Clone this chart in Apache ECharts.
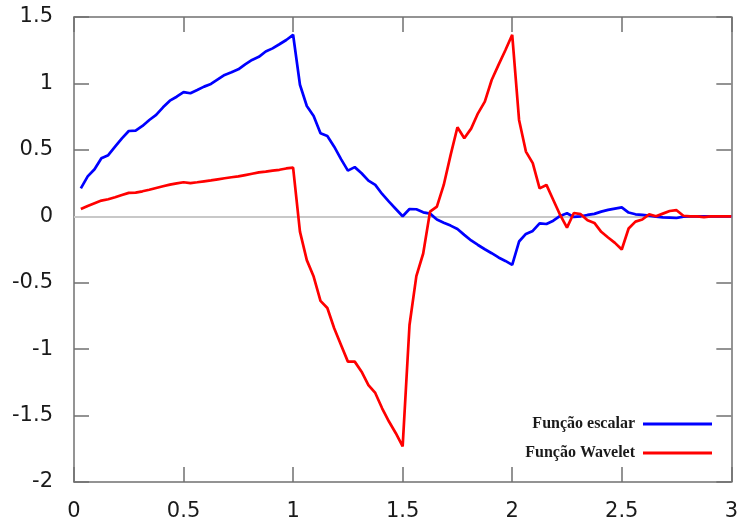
<!DOCTYPE html>
<html>
<head>
<meta charset="utf-8">
<script src="https://cdn.jsdelivr.net/npm/echarts@6/dist/echarts.min.js"></script>
<style>
html,body{margin:0;padding:0;background:#fff;}
#chart{width:741px;height:524px;}
</style>
</head>
<body>
<div id="chart"></div>
<script>
// sampling grid: x = k/32, k = 1..96
const xStart = 1 / 32;
const xStep = 1 / 32;
const seriesNames = ['Função escalar', 'Função Wavelet'];
const escalar = [
  0.21, 0.30, 0.354, 0.437, 0.46, 0.524, 0.587, 0.642, 0.645, 0.68,
  0.725, 0.763, 0.82, 0.87, 0.90, 0.935, 0.926, 0.95, 0.976, 0.996,
  1.03, 1.064, 1.084, 1.106, 1.144, 1.177, 1.20, 1.24, 1.264, 1.295,
  1.327, 1.366, 0.99, 0.83, 0.755, 0.625, 0.605, 0.524, 0.43, 0.344,
  0.37, 0.324, 0.268, 0.236, 0.168, 0.11, 0.055, 0.0, 0.055, 0.053,
  0.03, 0.02, -0.025, -0.048, -0.07, -0.096, -0.14, -0.182, -0.216, -0.248,
  -0.278, -0.31, -0.336, -0.366, -0.19, -0.133, -0.11, -0.053, -0.058, -0.033,
  0.003, 0.023, -0.005, 0.0, 0.01, 0.018, 0.035, 0.048, 0.058, 0.067,
  0.028, 0.015, 0.01, 0.005, -0.003, -0.008, -0.01, -0.013, -0.003, 0,
  0, 0, 0, 0, 0, 0
];
const wavelet = [
  0.055, 0.078, 0.098, 0.118, 0.128, 0.143, 0.16, 0.176, 0.178, 0.188,
  0.20, 0.213, 0.226, 0.238, 0.248, 0.256, 0.25, 0.256, 0.263, 0.27,
  0.278, 0.286, 0.294, 0.30, 0.31, 0.32, 0.33, 0.336, 0.344, 0.35,
  0.36, 0.366, -0.115, -0.33, -0.454, -0.637, -0.69, -0.843, -0.968, -1.094,
  -1.094, -1.17, -1.27, -1.33, -1.445, -1.545, -1.633, -1.732, -0.818, -0.45,
  -0.28, 0.035, 0.073, 0.236, 0.46, 0.67, 0.587, 0.66, 0.775, 0.863,
  1.026, 1.14, 1.25, 1.366, 0.725, 0.487, 0.40, 0.21, 0.236, 0.123,
  0.01, -0.085, 0.025, 0.016, -0.03, -0.05, -0.117, -0.16, -0.2, -0.25,
  -0.092, -0.04, -0.024, 0.014, 0.0, 0.02, 0.04, 0.046, 0.004, 0,
  0, -0.006, 0, 0, 0, 0
];
const xTicks = [0, 0.5, 1, 1.5, 2, 2.5, 3];
const yTicks = [-2, -1.5, -1, -0.5, 0, 0.5, 1, 1.5];

function pairs(arr) {
  return arr.map((v, i) => [xStart + i * xStep, v]);
}

const chart = echarts.init(document.getElementById('chart'));
const axisCol = '#707070';
const labelFont = { fontFamily: 'DejaVu Sans, Liberation Sans, Arial, sans-serif', fontSize: 21, color: '#1a1a1a' };

function xAx(pos, showLabel) {
  return {
    type: 'value', position: pos, min: xTicks[0], max: xTicks[xTicks.length - 1], interval: 0.5,
    axisLine: { show: true, onZero: false, lineStyle: { color: axisCol, width: 1.5 } },
    axisTick: { show: true, inside: true, length: 15, lineStyle: { color: axisCol, width: 1.5 } },
    axisLabel: Object.assign({ show: showLabel, margin: 19, formatter: v => String(v) }, labelFont),
    splitLine: { show: false }
  };
}
function yAx(pos, showLabel) {
  return {
    type: 'value', position: pos, min: yTicks[0], max: yTicks[yTicks.length - 1], interval: 0.5,
    axisLine: { show: true, onZero: false, lineStyle: { color: axisCol, width: 1.5 } },
    axisTick: { show: true, inside: true, length: 15, lineStyle: { color: axisCol, width: 1.5 } },
    axisLabel: Object.assign({ show: showLabel, margin: 21, formatter: v => String(v) }, labelFont),
    splitLine: { show: false }
  };
}

chart.setOption({
  animation: false,
  backgroundColor: '#ffffff',
  grid: { left: 74, right: 2, top: 17, bottom: 42, containLabel: false },
  xAxis: [xAx('bottom', true), xAx('top', false)],
  yAxis: [yAx('left', true), yAx('right', false)],
  legend: {
    orient: 'vertical', right: 29, top: 415, align: 'right', padding: 0,
    itemWidth: 69, itemHeight: 3, itemGap: 11, icon: 'rect',
    textStyle: { fontFamily: 'Liberation Serif, Times New Roman, serif', fontWeight: 'bold', fontSize: 16, lineHeight: 18, color: '#1a1a1a', padding: [0, 3, 0, 0] },
    data: seriesNames
  },
  series: [
    {
      name: seriesNames[0], type: 'line', data: pairs(escalar), showSymbol: false, symbol: 'none',
      lineStyle: { color: '#0000ff', width: 2.7 }, itemStyle: { color: '#0000ff' }, z: 3,
      markLine: {
        silent: true, symbol: 'none', label: { show: false },
        lineStyle: { color: '#c8c8c8', width: 2, type: 'solid' },
        data: [{ yAxis: 0 }], z: 1
      }
    },
    {
      name: seriesNames[1], type: 'line', data: pairs(wavelet), showSymbol: false, symbol: 'none',
      lineStyle: { color: '#ff0000', width: 2.7 }, itemStyle: { color: '#ff0000' }, z: 4
    }
  ]
});
</script>
</body>
</html>
